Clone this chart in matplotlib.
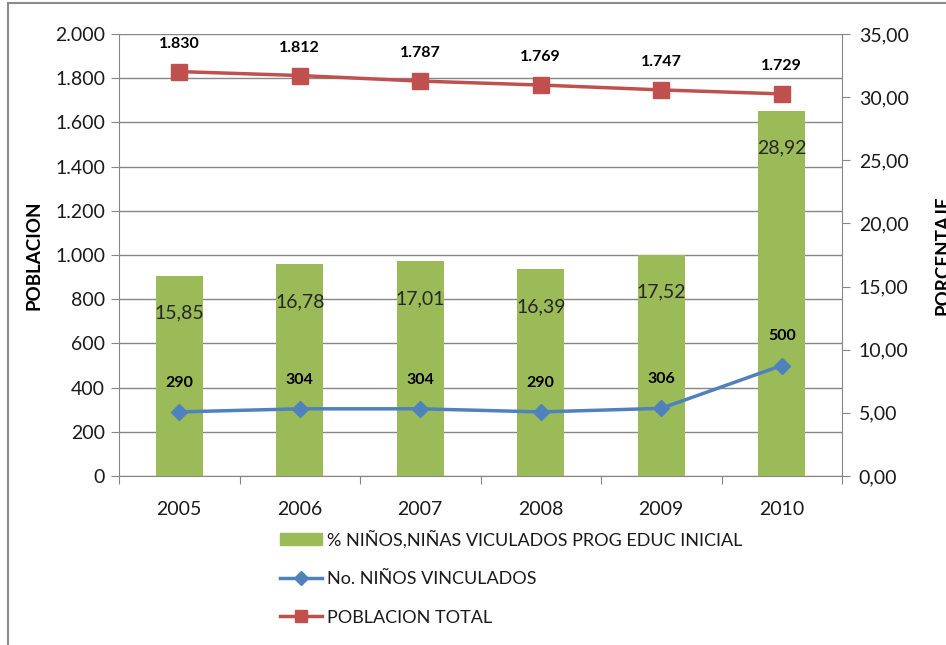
import matplotlib
matplotlib.use("Agg")
import matplotlib.pyplot as plt
from matplotlib.patches import Rectangle, Patch
from matplotlib.lines import Line2D
from matplotlib.ticker import FuncFormatter, MultipleLocator, FixedLocator

plt.rcParams['font.family'] = ['Lato', 'DejaVu Sans']

years = ["2005", "2006", "2007", "2008", "2009", "2010"]
pct_vinculados = [15.85, 16.78, 17.01, 16.39, 17.52, 28.92]
ninos_vinculados = [290, 304, 304, 290, 306, 500]
poblacion_total = [1830, 1812, 1787, 1769, 1747, 1729]

bar_label = "% NIÑOS,NIÑAS VICULADOS PROG EDUC INICIAL"
blue_label = "No. NIÑOS VINCULADOS"
red_label = "POBLACION TOTAL"

GREEN = "#9bbb59"
BLUE = "#4f81bd"
RED = "#c0504d"
GRID = "#868686"
TXT = "#1a1a1a"
FS = 14

W, H = 946, 645
fig = plt.figure(figsize=(W / 100, H / 100), dpi=100)

# outer frame
fig.patches.append(Rectangle((8 / W, -0.1), 1.2, 1.1 - 3 / H, transform=fig.transFigure,
                             fill=False, edgecolor="#8c8c8c", linewidth=1.5, zorder=0))

L, R, T, B = 119, 842, 34, 476
rect = [L / W, 1 - B / H, (R - L) / W, (B - T) / H]
ax = fig.add_axes(rect)
ax2 = ax.twinx()
ax3 = ax.twinx()

x = list(range(len(years)))

# base axis: left scale + grid
ax.set_xlim(-0.5, len(years) - 0.5)
ax.set_ylim(0, 2000)
ax.yaxis.set_major_locator(MultipleLocator(200))
ax.yaxis.set_major_formatter(FuncFormatter(lambda v, p: f"{int(v):,}".replace(",", ".")))
ax.grid(axis="y", color=GRID, linewidth=1)
ax.set_axisbelow(True)
for s in ["top", "right"]:
    ax.spines[s].set_visible(False)
for s in ["left", "bottom"]:
    ax.spines[s].set_color(GRID)
ax.xaxis.set_major_locator(FixedLocator([i - 0.5 for i in range(len(years) + 1)]))
ax.xaxis.set_major_formatter(FuncFormatter(lambda v, p: ""))
ax.xaxis.set_minor_locator(FixedLocator(x))
ax.set_xticks(x, minor=True)
ax.set_xticklabels(years, minor=True)
ax.tick_params(axis="x", which="major", length=6, color=GRID, direction="out")
ax.tick_params(axis="x", which="minor", length=0, pad=18, labelsize=FS, labelcolor=TXT)
ax.tick_params(axis="y", length=6, color=GRID, labelsize=FS, labelcolor=TXT, pad=4)
ax.set_ylabel("POBLACION", fontsize=13.5, fontweight="bold", labelpad=9, color="black")

# bars on right scale
ax2.set_ylim(0, 35)
ax2.yaxis.set_major_locator(MultipleLocator(5))
ax2.yaxis.set_major_formatter(FuncFormatter(lambda v, p: f"{v:.2f}".replace(".", ",")))
ax2.tick_params(axis="y", length=6, color=GRID, labelsize=FS, labelcolor=TXT, pad=6)
for s in ["top", "left", "bottom"]:
    ax2.spines[s].set_visible(False)
ax2.spines["right"].set_color(GRID)
bars = ax2.bar(x, pct_vinculados, width=0.39, color=GREEN, zorder=2)
for xi, v in zip(x, pct_vinculados):
    ax2.annotate(f"{v:.2f}".replace(".", ","), (xi, v), xytext=(0, -27), textcoords="offset points",
                 ha="center", va="center", fontsize=FS, color="#262626")
ax2.set_ylabel("PORCENTAJE", fontsize=13.5, fontweight="bold", labelpad=19, color="black")

# lines on left scale, top layer
ax3.set_ylim(0, 2000)
ax3.set_xlim(-0.5, len(years) - 0.5)
ax3.axis("off")
ax3.plot(x, ninos_vinculados, color=BLUE, linewidth=2.5, marker="D", markersize=8,
         markeredgecolor=BLUE, markerfacecolor=BLUE)
ax3.plot(x, poblacion_total, color=RED, linewidth=2.5, marker="s", markersize=11,
         markeredgecolor=RED, markerfacecolor=RED)
for xi, v in zip(x, ninos_vinculados):
    ax3.annotate(f"{v:,}".replace(",", "."), (xi, v), xytext=(0, 21), textcoords="offset points",
                 ha="center", va="center", fontsize=11.5, fontweight="bold", color="black")
for xi, v in zip(x, poblacion_total):
    ax3.annotate(f"{v:,}".replace(",", "."), (xi, v), xytext=(0, 20), textcoords="offset points",
                 ha="center", va="center", fontsize=11.5, fontweight="bold", color="black")

handles = [Patch(facecolor=GREEN, edgecolor=GREEN),
           Line2D([], [], color=BLUE, linewidth=2.5, marker="D", markersize=7),
           Line2D([], [], color=RED, linewidth=2.5, marker="s", markersize=9)]
fig.legend(handles, [bar_label, blue_label, red_label], loc="upper left",
           bbox_to_anchor=(280 / W, 1 - 530 / H), frameon=False, fontsize=13,
           handlelength=2.3, handletextpad=0.3, labelspacing=1.25, borderaxespad=0, borderpad=0,
           labelcolor=TXT)

fig.savefig("out.png", dpi=100)
